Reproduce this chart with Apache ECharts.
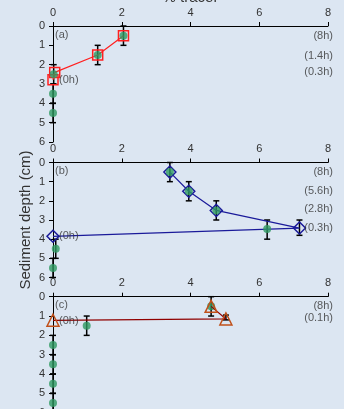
<!DOCTYPE html>
<html><head><meta charset="utf-8">
<script src="https://cdn.jsdelivr.net/npm/echarts@6/dist/echarts.min.js"></script>
<style>html,body{margin:0;padding:0;background:#dce6f2;}#c{width:344px;height:409px;}</style>
</head><body><div id="c"></div>
<script>
// Panel (a)
const measA = [[2.05,0.5],[1.3,1.5],[0.02,2.5],[0,3.5],[0,4.5]];
const errA = [[2.05,0,1],[1.3,1,2],[0.02,2,3],[0,3,4],[0,4,5]];
const modelA = [[2.05,0.5],[1.3,1.5],[0.05,2.4],[0,2.78]];
const hoursA = ['(8h)','(1.4h)','(0.3h)'];
const hoursADepth = [0.5,1.53,2.4];
const zeroA = [0,2.78];
// Panel (b)
const measB = [[3.4,0.5],[3.95,1.5],[4.75,2.5],[6.23,3.47],[0.08,4.5],[0,5.5]];
const errB = [[3.4,0,1],[3.95,1,2],[4.75,2,3],[6.23,3,4],[7.17,3,3.8],[0.08,4,5],[0,5,6]];
const modelB = [[3.4,0.5],[3.95,1.5],[4.75,2.5],[7.17,3.42],[0,3.85]];
const hoursB = ['(8h)','(5.6h)','(2.8h)','(0.3h)'];
const hoursBDepth = [0.5,1.5,2.45,3.4];
const zeroB = [0,3.85];
// Panel (c)
const measC = [[4.6,0.5],[0.98,1.5],[0,2.5],[0,3.5],[0,4.5],[0,5.5]];
const errC = [[4.6,0,1],[0.98,1,2],[5.03,0.95,1.2],[0,2,3],[0,3,4],[0,4,5],[0,5,6]];
const modelC = [[4.6,0.5],[5.03,1.15],[0,1.22]];
const hoursC = ['(8h)','(0.1h)'];
const hoursCDepth = [0.46,1.1];
const zeroC = [0,1.25];
const panelTags = ['(a)','(b)','(c)'];

const FONT = 'Liberation Sans, Arial, sans-serif';
const grids = [
  {left:53, right:16, top:26, height:116, outerBoundsMode:'none', containLabel:false},
  {left:53, right:16, top:162.5, height:115, outerBoundsMode:'none', containLabel:false},
  {left:53, right:16, top:296.7, height:116, outerBoundsMode:'none', containLabel:false}
];
function xAx(i){
  const o = {gridIndex:i, type:'value', min:0, max:8, interval:2, position:'top',
    axisLine:{show:true, onZero:false, lineStyle:{color:'#000', width:1}},
    axisTick:{show:true, inside:false, length:4, lineStyle:{color:'#000'}},
    axisLabel:{color:'#333', fontFamily:FONT, fontSize:11, margin:8},
    splitLine:{show:false}};
  if(i===0){ o.name='% tracer'; o.nameLocation='middle'; o.nameGap=21; o.nameMoveOverlap=false;
    o.nameTextStyle={color:'#333', fontFamily:FONT, fontSize:15}; }
  return o;
}
function yAx(i){
  const o = {gridIndex:i, type:'value', min:0, max:6, interval:1, inverse:true,
    axisLine:{show:true, onZero:false, lineStyle:{color:'#000', width:1}},
    axisTick:{show:true, inside:false, length:4, lineStyle:{color:'#000'}},
    axisLabel:{color:'#333', fontFamily:FONT, fontSize:11, margin:8},
    splitLine:{show:false}};
  if(i===1){ o.name='Sediment depth (cm)'; o.nameLocation='middle'; o.nameGap=20; o.nameRotate=90;
    o.nameMoveOverlap=false;
    o.nameTextStyle={color:'#333', fontFamily:FONT, fontSize:15}; }
  return o;
}
function errSeries(i, data){
  return {type:'custom', xAxisIndex:i, yAxisIndex:i, z:5, data:data, encode:{x:0, y:[1,2]},
    renderItem:function(params, api){
      const x = api.value(0), lo = api.value(1), hi = api.value(2);
      const p1 = api.coord([x, lo]), p2 = api.coord([x, hi]);
      const cw = 3, st = {stroke:'#000', lineWidth:1.5};
      return {type:'group', children:[
        {type:'line', shape:{x1:p1[0], y1:p1[1], x2:p2[0], y2:p2[1]}, style:st},
        {type:'line', shape:{x1:p1[0]-cw, y1:p1[1], x2:p1[0]+cw, y2:p1[1]}, style:st},
        {type:'line', shape:{x1:p2[0]-cw, y1:p2[1], x2:p2[0]+cw, y2:p2[1]}, style:st}
      ]};
    }};
}
function measSeries(i, data){
  return {type:'scatter', xAxisIndex:i, yAxisIndex:i, z:8, data:data, symbol:'circle', symbolSize:8,
    itemStyle:{color:'#2e9a62'}, silent:true};
}
function modelSeries(i, data, sym, size, col, lineCol){
  return {type:'line', xAxisIndex:i, yAxisIndex:i, z:6, data:data, symbol:sym, symbolSize:size,
    showAllSymbol:true,
    lineStyle:{color:lineCol, width:1.2}, itemStyle:{color:'rgba(0,0,0,0)', borderColor:col, borderWidth:1.5},
    animation:false};
}
function hourLabels(i, names, depths){
  return {type:'scatter', xAxisIndex:i, yAxisIndex:i, z:9, symbolSize:0,
    data: names.map((n,k)=>({value:[8, depths[k]], name:n})),
    label:{show:true, position:'inside', align:'right', offset:[5,0], formatter:'{b}',
      color:'#333', fontFamily:FONT, fontSize:11}};
}
function zeroLabel(i, pt){
  return {type:'scatter', xAxisIndex:i, yAxisIndex:i, z:9, symbolSize:0,
    data:[{value:pt, name:'(0h)'}],
    label:{show:true, position:'inside', align:'left', offset:[6,0], formatter:'{b}',
      color:'#333', fontFamily:FONT, fontSize:11}};
}
function tagLabel(i){
  return {type:'scatter', xAxisIndex:i, yAxisIndex:i, z:9, symbolSize:0,
    data:[{value:[0,0], name:panelTags[i]}],
    label:{show:true, position:'inside', align:'left', verticalAlign:'top', offset:[2,3], formatter:'{b}',
      color:'#333', fontFamily:FONT, fontSize:11}};
}
const series = [
  errSeries(0, errA), modelSeries(0, modelA, 'rect', 10, '#ff2020', '#ff2020'), measSeries(0, measA),
  hourLabels(0, hoursA, hoursADepth), zeroLabel(0, zeroA), tagLabel(0),
  errSeries(1, errB), modelSeries(1, modelB, 'diamond', 12, '#1a1a9a', '#1a1a9a'), measSeries(1, measB),
  hourLabels(1, hoursB, hoursBDepth), zeroLabel(1, zeroB), tagLabel(1),
  errSeries(2, errC), measSeries(2, measC), modelSeries(2, modelC, 'triangle', 12, '#c0501a', '#900000'),
  hourLabels(2, hoursC, hoursCDepth), zeroLabel(2, zeroC), tagLabel(2)
];
series[14].z = 9;
const chart = echarts.init(document.getElementById('c'), null, {renderer:'canvas'});
chart.setOption({
  backgroundColor:'#dce6f2',
  animation:false,
  grid: grids,
  xAxis: [xAx(0), xAx(1), xAx(2)],
  yAxis: [yAx(0), yAx(1), yAx(2)],
  series: series
});
</script></body></html>
